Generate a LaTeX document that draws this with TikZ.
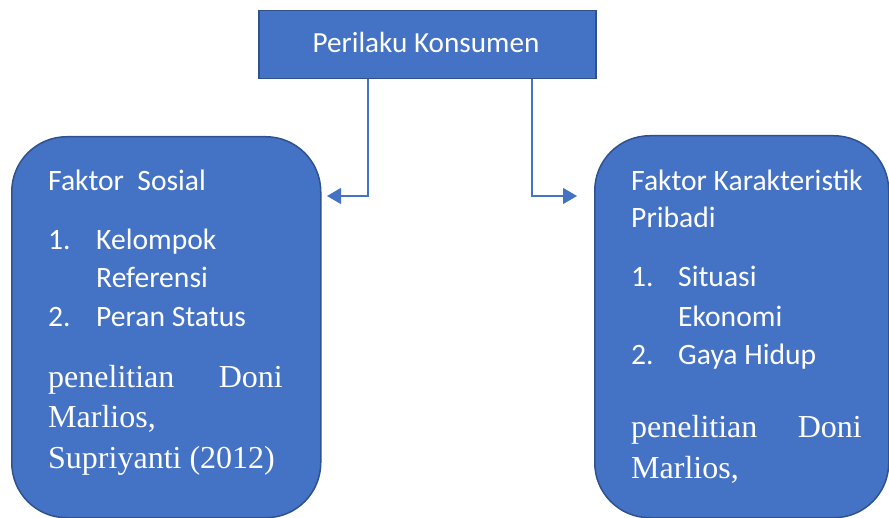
\documentclass[tikz,border=0pt]{standalone}
\usepackage{fontspec}
\setmainfont{Carlito}
\newfontfamily\tnr{Liberation Serif}
\usetikzlibrary{arrows.meta}
\definecolor{obl}{HTML}{4472C4}
\definecolor{obd}{HTML}{2F528F}
\begin{document}
\begin{tikzpicture}[x=1pt,y=-1pt,
 box/.style={draw=obd, fill=obl, line width=1.5pt, inner sep=0pt},
 sans/.style={text=white, font=\fontsize{29.6}{35}\selectfont, inner sep=0pt, anchor=base west},
 serif/.style={text=white, font=\tnr\fontsize{32}{38}\selectfont, inner sep=0pt, anchor=base west},
 arr/.style={draw=obl, line width=1.3pt, -{Triangle[length=14pt,width=16pt]}}]
\useasboundingbox (0,0) rectangle (889,518);
% boxes
\node[box, minimum width=337pt, minimum height=68pt, anchor=north west] (top) at (258,10) {};
\node[text=white, font=\fontsize{29.2}{35}\selectfont, inner sep=0pt] (toplbl) at (426,42) {Perilaku Konsumen};
\node[box, rounded corners=55pt, minimum width=309pt, minimum height=381pt, anchor=north west] (lbox) at (11,136) {};
\node[box, rounded corners=55pt, minimum width=294pt, minimum height=382pt, anchor=north west] (rbox) at (594,135) {};
% connectors
\coordinate (lx) at (368,0);
\coordinate (rx) at (532,0);
\coordinate (lt) at (327,196);
\coordinate (rt) at (577,196);
\draw[arr] (top.south -| lx) |- (lt);
\draw[arr] (top.south -| rx) |- (rt);
% left texts
\node[sans] (l1) at (48,191) {Faktor\ \ Sosial};
\node[sans] (l2n) at (48,250) {1.};
\node[sans] (l2) at (96,250) {Kelompok};
\node[sans] (l3) at (96,288) {Referensi};
\node[sans] (l4n) at (48,327) {2.};
\node[sans] (l4) at (96,327) {Peran Status};
\node[serif] (l5a) at (48,388) {penelitian};
\node[serif, anchor=base east] (l5b) at (283,388) {Doni};
\node[serif] (l6) at (48,428) {Marlios,};
\node[serif] (l7) at (48,468) {Supriyanti (2012)};
% right texts
\node[sans] (r1) at (631,191) {Faktor Karakteristik};
\node[sans] (r2) at (631,228) {Pribadi};
\node[sans] (r3n) at (631,287) {1.};
\node[sans] (r3) at (678,287) {Situasi};
\node[sans] (r4) at (678,327) {Ekonomi};
\node[sans] (r5n) at (631,365) {2.};
\node[sans] (r5) at (678,365) {Gaya Hidup};
\node[serif] (r6a) at (631,438) {penelitian};
\node[serif, anchor=base east] (r6b) at (862,438) {Doni};
\node[serif] (r7) at (631,478) {Marlios,};
\end{tikzpicture}
\end{document}
